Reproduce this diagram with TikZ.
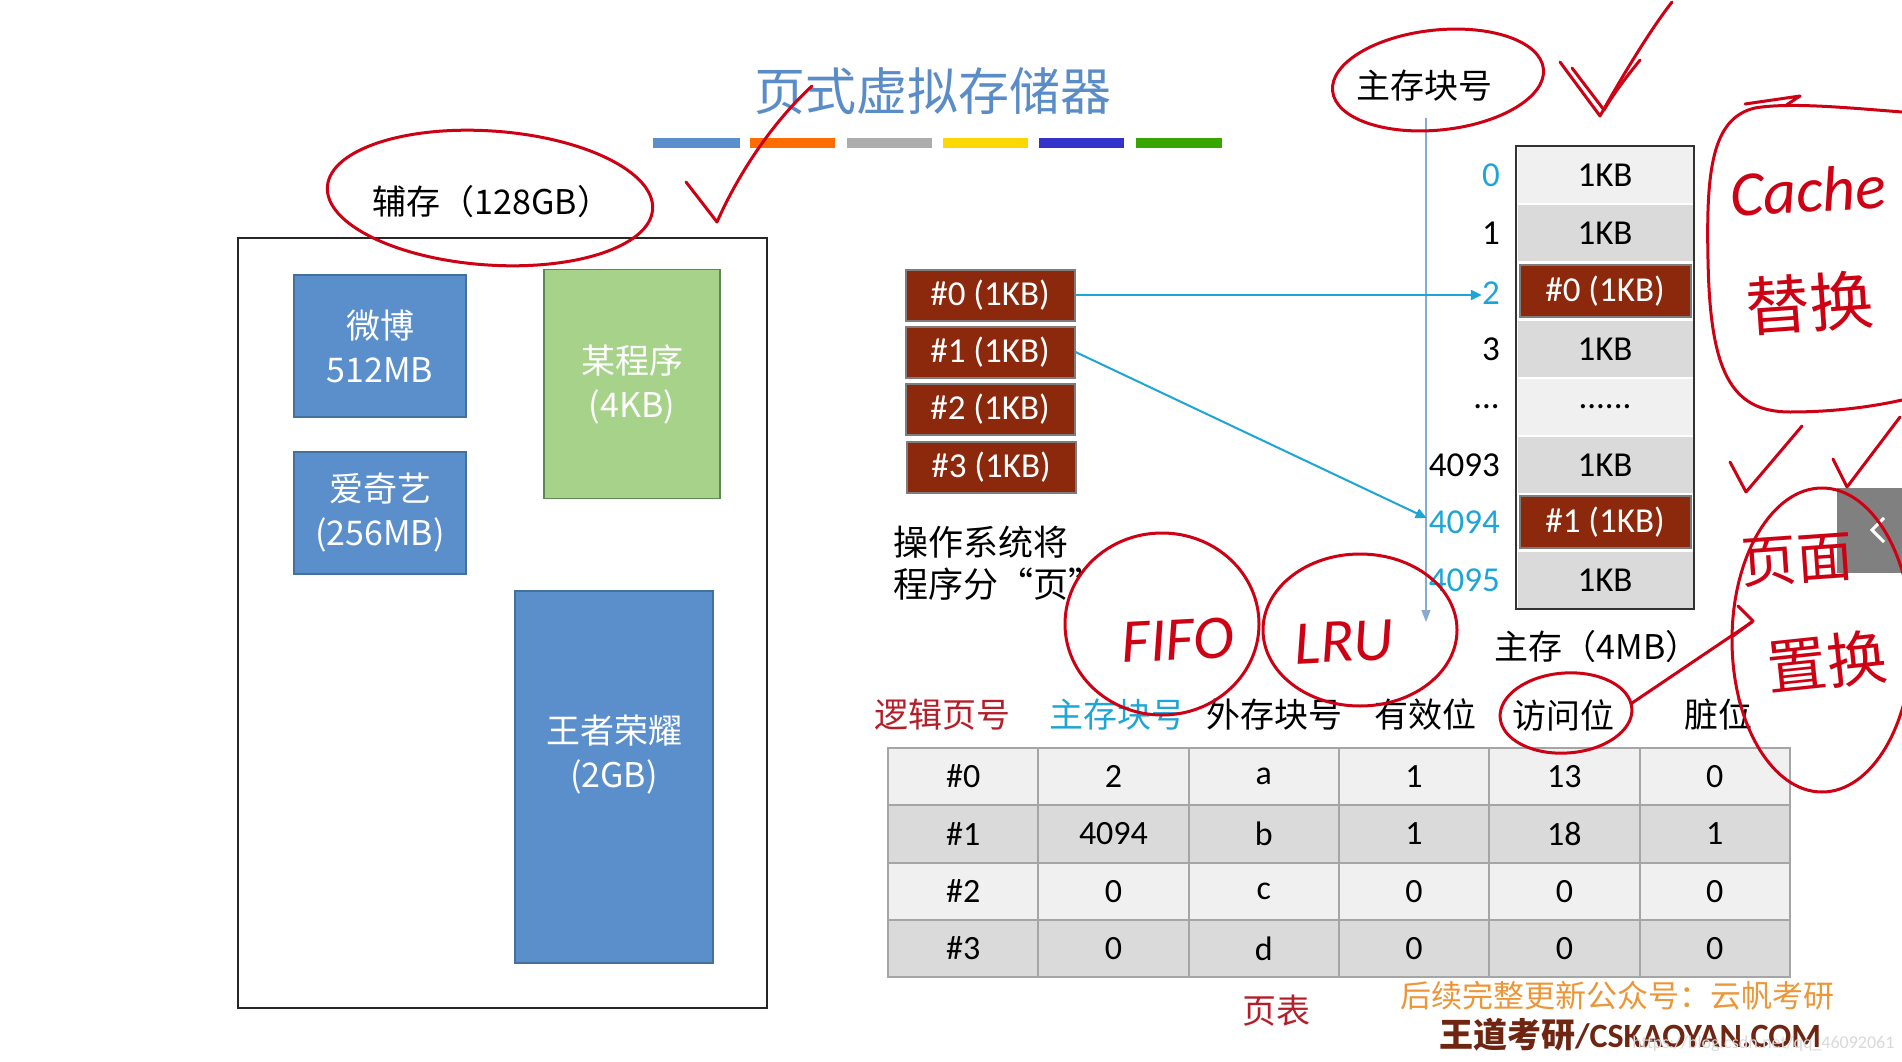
\documentclass[tikz,border=0pt]{standalone}
\usepackage{fontspec}
\setmainfont{Carlito}
\newfontfamily\zhfont{Noto Sans CJK SC}
\usetikzlibrary{arrows.meta}

\definecolor{blkblue}{RGB}{90,143,204}
\definecolor{blkedge}{RGB}{65,113,156}
\definecolor{progreen}{RGB}{166,211,137}
\definecolor{progedge}{RGB}{95,135,85}
\definecolor{pagered}{RGB}{140,40,12}
\definecolor{pageedge}{RGB}{125,125,125}
\definecolor{cellL}{RGB}{240,240,240}
\definecolor{cellD}{RGB}{218,218,218}
\definecolor{memedge}{RGB}{50,50,50}
\definecolor{tabline}{RGB}{165,165,165}
\definecolor{linkcyan}{RGB}{30,165,215}
\definecolor{vlineblue}{RGB}{135,170,210}
\definecolor{titleblue}{RGB}{90,140,200}
\definecolor{logicred}{RGB}{180,30,40}
\definecolor{inkred}{RGB}{205,0,20}
\definecolor{footorange}{RGB}{236,150,55}
\definecolor{footbrown}{RGB}{110,38,18}
\definecolor{btngray}{RGB}{128,128,128}

\begin{document}
\begin{tikzpicture}[
    % 1 unidade = 1 pixel da captura
    x=1pt, y=-1pt,
    zh/.style={font=\zhfont\fontsize{34}{44}\selectfont, inner sep=1},
    progblk/.style={draw=blkedge, line width=1.5, fill=blkblue, inner sep=0},
    progtxt/.style={zh, text=white, align=center, inner sep=0},
    pageblk/.style={draw=pageedge, line width=2, fill=pagered, text=white,
        font=\fontsize{35}{40}\selectfont, minimum width=169, minimum height=51, inner sep=0},
    memcell/.style={draw=white, line width=2, minimum width=177, minimum height=57.9,
        inner sep=0, font=\fontsize{35}{40}\selectfont},
    idx/.style={anchor=east, inner sep=0, font=\fontsize{35}{40}\selectfont},
    tcell/.style={draw=tabline, line width=2, minimum width=150.3, minimum height=57.25,
        inner sep=0, font=\fontsize{34}{40}\selectfont},
    link/.style={draw=linkcyan, line width=2, -{Triangle[length=11pt,width=10pt]}},
    ink/.style={draw=inkred, line width=3, line cap=round, line join=round},
    scrawl/.style={text=inkred, inner sep=0}
]
    \fill[white] (0,0) rectangle (1902,1062);
    \useasboundingbox (0,0) rectangle (1902,1062);

    % ==========================================
    % 1. TITULO
    % ==========================================
    \node[text=titleblue, font=\zhfont\fontsize{51}{60}\selectfont] (title) at (933,91) {页式虚拟存储器};
    \fill[blkblue] (653,138) rectangle (740,148); % faixas coloridas
    \fill[orange!85!red] (750,138) rectangle (835,148);
    \fill[gray!65] (847,138) rectangle (932,148);
    \fill[yellow!75!orange] (943,138) rectangle (1028,148);
    \fill[blue!60!gray] (1039,138) rectangle (1124,148);
    \fill[green!50!black!70!lime] (1136,138) rectangle (1222,148);

    % ==========================================
    % 2. AUXILIAR (esquerda)
    % ==========================================
    \node[zh] (aux) at (492,202) {辅存（128GB）};
    \draw[line width=2, draw=black!85] (238,238) rectangle (767,1008);

    \node[progblk, minimum width=172, minimum height=142] (weibo) at (380,346) {};
    \node[progtxt] (weibotxt) at (weibo) {微博\\512MB};
    \node[progblk, minimum width=172, minimum height=122] (iqiyi) at (380,513) {};
    \node[progtxt] (iqiyitxt) at (iqiyi) {爱奇艺\\(256MB)};
    \node[progblk, draw=progedge, fill=progreen, minimum width=176, minimum height=229] (prog) at (632,384) {};
    \node[progtxt] (progtxt) at (prog) {某程序\\(4KB)};
    \node[progblk, minimum width=198, minimum height=372] (wzry) at (614,777) {};
    \node[progtxt] (wzrytxt) at (614,755) {王者荣耀\\(2GB)};

    % ==========================================
    % 3. PAGINAS DO PROGRAMA
    % ==========================================
    \node[pageblk] (p0) at (990,295) {\#0 (1KB)};
    \node[pageblk] (p1) at (990,352) {\#1 (1KB)};
    \node[pageblk] (p2) at (990,409) {\#2 (1KB)};
    \node[pageblk] (p3) at (991,467) {\#3 (1KB)};
    \node[zh, anchor=north west, align=left, inner sep=0,
          font=\zhfont\fontsize{35}{42}\selectfont] (ostxt) at (893,526) {操作系统将\\程序分“页”};

    % ==========================================
    % 4. MEMORIA PRINCIPAL
    % ==========================================
    \node[zh] (blkno) at (1424,86) {主存块号};
    \coordinate (vtop) at (1426,118);
    \coordinate (vbot) at (1426,622);
    \draw[vlineblue, line width=1.2, -{Triangle[length=12pt,width=9pt]}] (vtop) -- (vbot);

    \node[memcell, fill=cellL] (m0) at (1605,175) {1KB};
    \node[memcell, fill=cellD] (m1) at (1605,233) {1KB};
    \node[pageblk, minimum width=171, minimum height=52] (m2) at (1605,291) {\#0 (1KB)};
    \node[memcell, fill=cellD] (m3) at (1605,349) {1KB};
    \node[memcell, fill=cellL] (m4) at (1605,407) {......};
    \node[memcell, fill=cellD] (m5) at (1605,465) {1KB};
    \node[pageblk, minimum width=171, minimum height=52] (m6) at (1605,522) {\#1 (1KB)};
    \node[memcell, fill=cellD] (m7) at (1605,580) {1KB};
    \draw[memedge, line width=2.5] (1516,146) rectangle (1694,609);

    \node[idx, text=linkcyan] (l0) at (1500,175) {0};
    \node[idx] (l1) at (1500,233) {1};
    \node[idx, text=linkcyan] (l2) at (1500,293) {2};
    \node[idx] (l3) at (1500,349) {3};
    \node[idx] (l4) at (1500,407) {...};
    \node[idx] (l4093) at (1500,465) {4093};
    \node[idx, text=linkcyan] (l4094) at (1500,522) {4094};
    \node[idx, text=linkcyan] (l4095) at (1500,580) {4095};
    \node[zh] (mainmem) at (1597,647) {主存（4MB）};

    \draw[link] (p0.east) -- (p0.east -| l2.west);
    \draw[link] (p1.east) -- ([xshift=-2pt, yshift=4pt]l4094.west);

    % ==========================================
    % 5. TABELA DE PAGINAS
    % ==========================================
    \node[zh, text=logicred] (h1) at (942,715) {逻辑页号};
    \node[zh, text=linkcyan] (h2) at (1117,715) {主存块号};
    \node[zh] (h3) at (1274,715) {外存块号};
    \node[zh] (h4) at (1425,715) {有效位};
    \node[zh] (h5) at (1563,715) {访问位};
    \node[zh] (h6) at (1718,715) {脏位};

    \foreach [count=\i] \row in {{\#0,2,a,1,13,0},{\#1,4094,b,1,18,1},{\#2,0,c,0,0,0},{\#3,0,d,0,0,0}} {
        \ifodd\i\def\rowfill{cellL}\else\def\rowfill{cellD}\fi
        \foreach [count=\j] \val in \row
            \node[tcell, fill=\rowfill] (t\i\j) at ({888+150.3*(\j-0.5)},{748+57.25*(\i-0.5)}) {\val};
    }
    \node[zh, text=logicred] (ptab) at (1276,1011) {页表};

    % rodape
    \node[text=footorange, font=\zhfont\fontsize{31}{36}\selectfont] (foot1) at (1617,996) {后续完整更新公众号：云帆考研};
    \node[text=footbrown, font=\bfseries\fontsize{34}{40}\selectfont] (foot2) at (1630,1035) {{\zhfont\bfseries 王道考研}/CSKAOYAN.COM};
    \node[text=gray!30, anchor=east, font=\fontsize{18}{20}\selectfont] (wmark) at (1898,1044) {https://blog.csdn.net/qq\_46092061};

    % botao cinza
    \fill[btngray] (1837,488) rectangle (1902,573);
    \draw[white, line width=3] (1884,518) -- (1872,530) -- (1884,542);

    % ==========================================
    % 6. ANOTACOES A MAO (vermelho)
    % ==========================================
    \draw[ink, rotate around={-4:(490,198)}] (490,198) ellipse [x radius=163, y radius=67];
    \draw[ink] (686,182) -- (717,222) .. controls (740,170) and (775,120) .. (812,86);
    \draw[ink, rotate around={6:(1438,80)}] (1438,80) ellipse [x radius=106, y radius=50];
    \draw[ink] (1560,62) -- (1600,116) .. controls (1620,80) and (1650,30) .. (1672,2);
    \draw[ink] (1572,68) -- (1604,110) .. controls (1616,90) and (1628,75) .. (1640,60);

    % Cache
    \draw[ink] (1902,112) .. controls (1850,108) and (1790,102) .. (1755,108)
        .. controls (1712,118) and (1706,170) .. (1708,260)
        .. controls (1710,370) and (1730,412) .. (1790,412)
        .. controls (1840,412) and (1880,405) .. (1902,400);
    \draw[ink] (1745,104) -- (1800,96) -- (1785,106);
    \node[scrawl, font=\itshape\fontsize{64}{70}\selectfont, rotate=3] (cache) at (1808,190) {Cache};
    \node[scrawl, font=\zhfont\fontsize{64}{70}\selectfont, rotate=4] (tihuan) at (1810,303) {替换};

    \draw[ink] (1730,462) -- (1746,492) -- (1802,426);
    \draw[ink] (1833,459) -- (1847,487) -- (1900,417);

    % pagina
    \draw[ink] (1822,640) ellipse [x radius=90, y radius=152];
    \node[scrawl, font=\zhfont\fontsize{56}{60}\selectfont, rotate=4] (yemian) at (1797,560) {页面};
    \node[scrawl, font=\zhfont\fontsize{60}{64}\selectfont, rotate=6] (zhihuan) at (1827,662) {置换};

    \draw[ink, rotate around={4:(1566,713)}] (1566,713) ellipse [x radius=66, y radius=40];
    \draw[ink] (1632,703) -- (1752,622);
    \draw[ink] (1738,606) -- (1753,621) -- (1733,636);

    % FIFO / LRU
    \draw[ink] (1162,624) ellipse [x radius=97, y radius=91];
    \draw[ink] (1360,630) ellipse [x radius=97, y radius=76];
    \node[scrawl, font=\itshape\fontsize{62}{66}\selectfont, rotate=3] (fifo) at (1178,640) {FIFO};
    \node[scrawl, font=\itshape\fontsize{62}{66}\selectfont, rotate=3] (lru) at (1344,642) {LRU};

\end{tikzpicture}
\end{document}
